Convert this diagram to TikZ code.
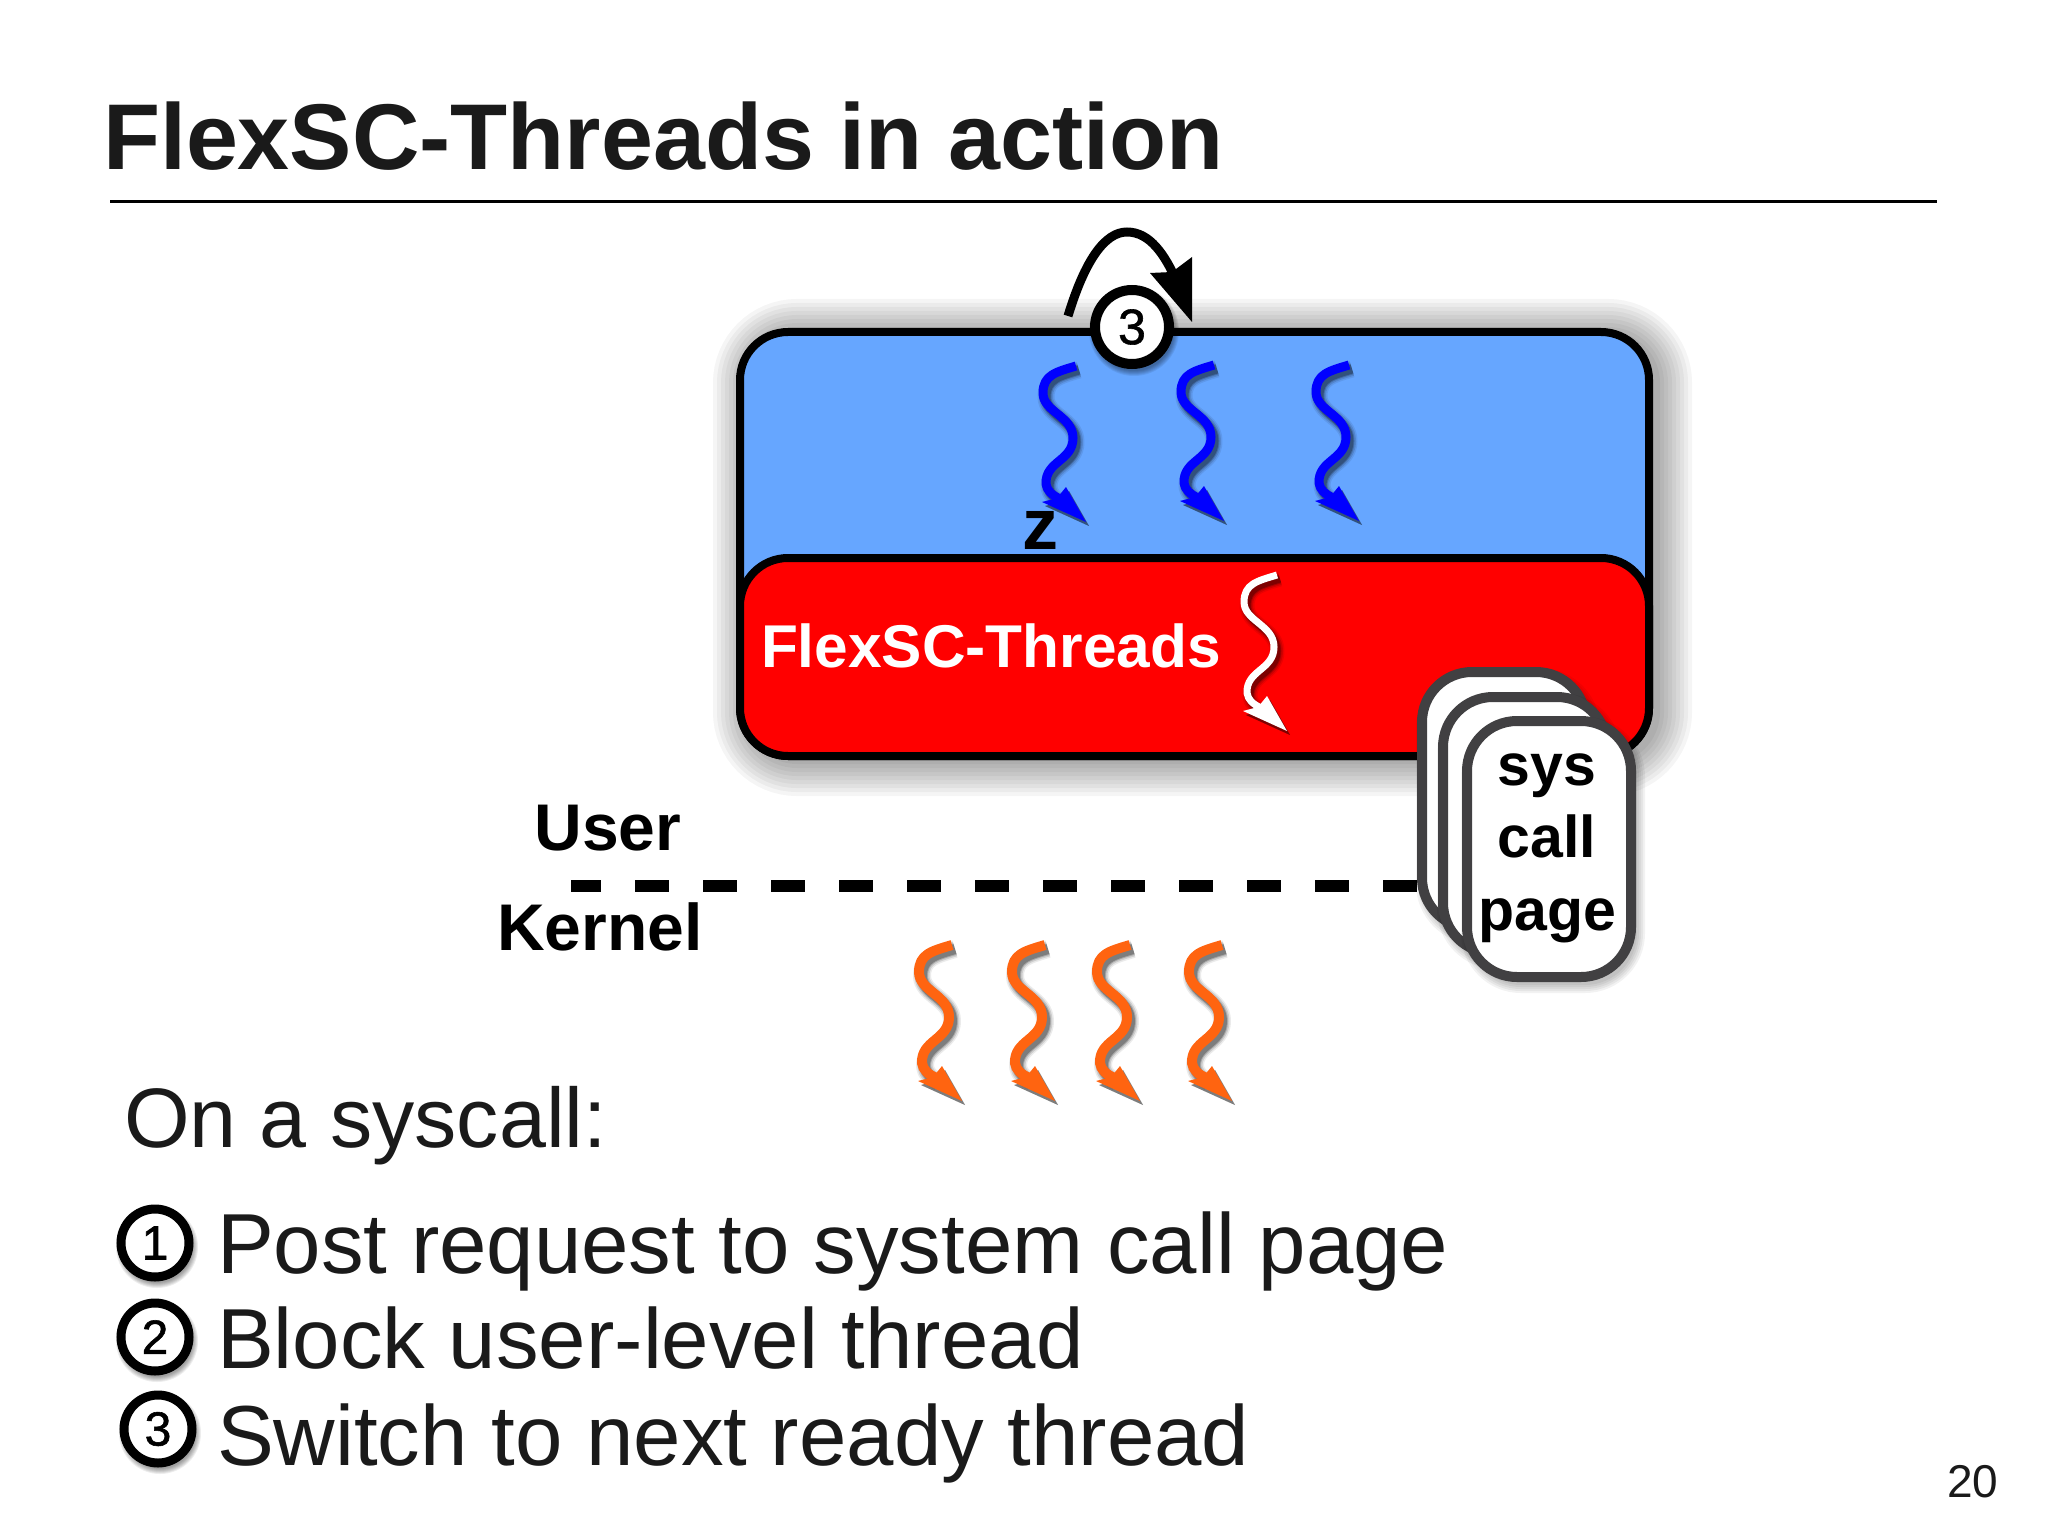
\documentclass[tikz,border=0pt]{standalone}
\usepackage{fontspec}
\setmainfont{Liberation Sans}
\newfontface\digface{Liberation Sans}[FakeBold=1.2]
\definecolor{inkc}{HTML}{1A1A1A}
\definecolor{userblue}{HTML}{66A6FF}
\definecolor{pagegray}{HTML}{414042}
\definecolor{threadorange}{HTML}{FF6410}
\newcommand{\pxr}[1]{\fontsize{#1}{#1}\selectfont}
\newcommand{\pxb}[1]{\fontsize{#1}{#1}\selectfont\bfseries}
\newcommand{\pxd}[1]{\fontsize{#1}{#1}\selectfont\digface}
\newcommand{\softrect}[6]{% x1 y1 x2 y2 opacity widths
  \foreach \w in {#6}{
    \draw[black,opacity=#5,line width=\w pt,rounded corners=24pt] (#1,#2) rectangle (#3,#4);
  }}
\newcommand{\softpage}[4]{%
  \foreach \w in {2,4,6,8,10}{
    \draw[black,opacity=.05,line width=\w pt,rounded corners=25pt] (#1,#2) rectangle (#3,#4);
  }}
\newcommand{\softdisc}[3]{%
  \foreach \w in {0,1,2,3,4,5}{
    \fill[black,opacity=.07] (#1,#2) circle[radius=#3 pt+\w pt/2];
  }}
\tikzset{
  x=0.5pt,y=-0.5pt,
  txt/.style={inner sep=0pt,outer sep=0pt,anchor=base west,text=inkc},
  lab/.style={inner sep=0pt,outer sep=0pt,anchor=base,text=black,font=\pxb{33}},
  box/.style={draw=black,line width=4pt,rounded corners=24pt,inner sep=0pt,outer sep=0pt},
  pagebox/.style={draw=pagegray,fill=white,line width=5pt,rounded corners=25pt,minimum width=82pt,minimum height=128pt,inner sep=0pt,outer sep=0pt},
  num/.style={circle,draw=black,fill=white,line width=4.5pt,minimum size=34pt,inner sep=0pt,font=\pxd{24},text=black},
  pics/squig/.style n args={2}{code={
    \foreach \w/\o in {4/.08,2.5/.12,1/.18,0/.25}{
      \begin{scope}[shift={(3,4)},opacity=\o]
        \draw[black,line width=#2+\w pt,line cap=butt,line join=round] (0,0) .. controls (-20,6) and (-33,9) .. (-33,27) .. controls (-33,46) and (-3,50) .. (-3,72) .. controls (-3,95) and (-31,95) .. (-30,118) .. controls (-29,125) and (-24,129) .. (-16,133);
        \fill[black] (10,156) -- (-34,136) -- (-19,132) -- (-10,121) -- cycle;
      \end{scope}
    }
    \draw[#1,line width=#2,line cap=butt,line join=round] (0,0) .. controls (-20,6) and (-33,9) .. (-33,27) .. controls (-33,46) and (-3,50) .. (-3,72) .. controls (-3,95) and (-31,95) .. (-30,118) .. controls (-29,125) and (-24,129) .. (-16,133);
    \fill[#1] (10,156) -- (-34,136) -- (-19,132) -- (-10,121) -- cycle;
  }}
}
\begin{document}
\begin{tikzpicture}
\useasboundingbox (0,0) rectangle (2048,1535);
\fill[white] (0,0) rectangle (2048,1535);
% title
\node[txt,font=\pxb{46.7}] (title) at (103,170) {FlexSC-Threads in action};
\coordinate (ruleL) at (110,202);
\coordinate (ruleR) at (1937,202);
\draw[black,line width=1.5pt] (ruleL) -- (ruleR);
% boxes
\softrect{749}{335}{1656}{760}{.04}{4,8,12,16,20,24,28,32,36}
\node[box,fill=userblue,minimum width=454.5pt,minimum height=212pt] (user) at (1194.5,544) {};
\node[box,fill=red,minimum width=454.5pt,minimum height=99pt] (kern) at (1194.5,657) {};
% loop arrow
\coordinate (loopS) at (1068,316);
\coordinate (loopE) at (1177,282);
\draw[black,line width=4.5pt] (loopS) .. controls (1085,260) and (1105,232) .. (1127,232) .. controls (1150,232) and (1165,255) .. (loopE);
\fill[black] (1192,322) -- (1150,273) -- (1172,272) -- (1192,257) -- cycle;
\softdisc{1134}{331}{20}
\node[num,minimum size=37pt,line width=5pt,font=\pxd{25}] (n0) at (1132,327) {3};
% threads
\pic (b1) at (1076,366) {squig={blue}{4.5pt}};
\pic (b2) at (1214,365) {squig={blue}{4.5pt}};
\pic (b3) at (1349,365) {squig={blue}{4.5pt}};
\pic (w1) at (1277,575) {squig={white}{3.5pt}};
\pic (o1) at (952,945) {squig={threadorange}{5pt}};
\pic (o2) at (1045,945) {squig={threadorange}{5pt}};
\pic (o3) at (1130,945) {squig={threadorange}{5pt}};
\pic (o4) at (1222,945) {squig={threadorange}{5pt}};
\node[lab,font=\pxb{36}] (zz) at (1040,549) {z};
\node[inner sep=0pt,outer sep=0pt,anchor=base west,text=white,font=\pxb{30.2}] (fx) at (761,667) {FlexSC-Threads};
% user/kernel
\node[lab] (ulab) at (608,850) {User};
\node[lab] (klab) at (600,950) {Kernel};
\coordinate (dashL) at (571,886);
\coordinate (dashR) at (1422,886);
\draw[black,line width=6pt,dash pattern=on 17pt off 17pt,dash phase=2pt] (dashL) -- (dashR);
% pages
\softpage{1426}{678}{1590}{934}
\node[pagebox] (p1) at (1504,800) {};
\softpage{1447}{703}{1611}{959}
\node[pagebox] (p2) at (1525,825) {};
\softpage{1471}{727}{1635}{983}
\node[pagebox] (p3) at (1549,849) {};
\node[lab,font=\pxb{29.5}] (s1) at (1547,785) {sys};
\node[lab,font=\pxb{29.5}] (s2) at (1547,857) {call};
\node[lab,font=\pxb{29.5}] (s3) at (1547,930) {page};
% text
\node[txt,font=\pxr{42.2}] (on) at (124,1147) {On a syscall:};
\softdisc{157}{1247}{18}
\softdisc{157}{1341}{18}
\softdisc{160}{1433}{18}
\node[num] (c1) at (155,1243) {1};
\node[num] (c2) at (155,1337) {2};
\node[num] (c3) at (158,1429) {3};
\node[txt,font=\pxr{42.6}] (t1) at (217,1273) {Post request to system call page};
\node[txt,font=\pxr{42.6}] (t2) at (217,1368) {Block user-level thread};
\node[txt,font=\pxr{42.6}] (t3) at (217,1465) {Switch to next ready thread};
\node[txt,font=\pxr{23}] (pg) at (1947,1497) {20};
\end{tikzpicture}
\end{document}
